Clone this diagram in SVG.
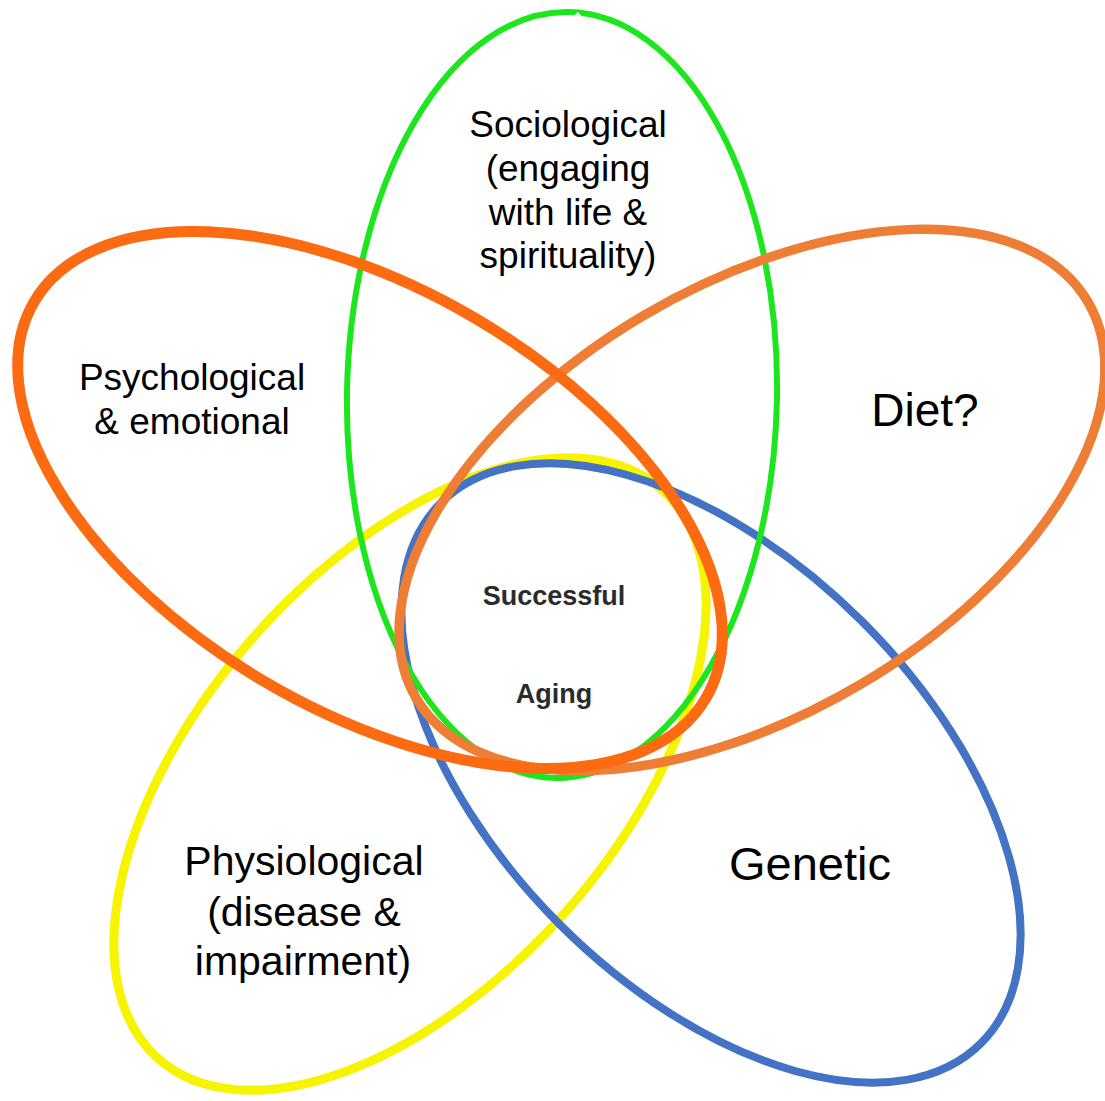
<svg xmlns="http://www.w3.org/2000/svg" width="1105" height="1101" viewBox="0 0 1105 1101">
<style>
  .ring { fill: none; }
  .patch { fill: #ffffff; stroke: none; }
  .lbl { font-family: "Liberation Sans", Arial, sans-serif; fill: #000; text-anchor: middle; }
  .core { font-family: "Liberation Sans", Arial, sans-serif; font-weight: bold; fill: #2b2b2b; text-anchor: middle; font-size: 27px; }
</style>
<rect x="0" y="0" width="1105" height="1101" fill="#ffffff"/>
<g id="connectors">
  <g id="yellow-ring"><ellipse class="ring" cx="410" cy="774" rx="380" ry="208" transform="rotate(-48.5 410 774)" stroke="#F7F400" stroke-width="9"/></g>
  <g id="blue-ring"><ellipse class="ring" cx="711" cy="773" rx="382" ry="214" transform="rotate(45 711 773)" stroke="#4472C4" stroke-width="8"/></g>
  <g id="green-ring"><ellipse class="ring" cx="562" cy="395" rx="215" ry="383" transform="rotate(1 562 395)" stroke="#1EE61E" stroke-width="6"/></g>
  <g id="orange-ring"><ellipse class="ring" cx="752" cy="500" rx="390" ry="214" transform="rotate(-30.6 752 500)" stroke="#EE7D35" stroke-width="9.5"/></g>
  <g id="red-ring"><ellipse class="ring" cx="370" cy="500" rx="390" ry="210" transform="rotate(30.6 370 500)" stroke="#FC6A12" stroke-width="11"/></g>
</g>
<g id="node-sociological">
  <polygon class="patch" points="578,12 746,207 700,255 430,225 390,180"/>
  <text class="lbl" font-size="37" x="568" y="137">Sociological</text>
  <text class="lbl" font-size="37" x="568" y="181">(engaging</text>
  <text class="lbl" font-size="37" x="568" y="225">with life &amp;</text>
  <text class="lbl" font-size="37" x="568" y="268">spirituality)</text>
</g>
<g id="node-psychological">
  <text class="lbl" font-size="37" x="192" y="390">Psychological</text>
  <text class="lbl" font-size="37" x="192" y="434">&amp; emotional</text>
</g>
<g id="node-diet">
  <text class="lbl" font-size="46" x="925" y="426">Diet?</text>
</g>
<g id="node-physiological">
  <rect class="patch" x="143" y="823" width="296" height="175"/>
  <text class="lbl" font-size="41" x="304" y="875">Physiological</text>
  <text class="lbl" font-size="41" x="304" y="926">(disease &amp;</text>
  <text class="lbl" font-size="41" x="303" y="975">impairment)</text>
</g>
<g id="node-genetic">
  <text class="lbl" font-size="47" x="810" y="880">Genetic</text>
</g>
<g id="node-center">
  <text class="core" x="554" y="605">Successful</text>
  <text class="core" x="554" y="703">Aging</text>
</g>
</svg>
